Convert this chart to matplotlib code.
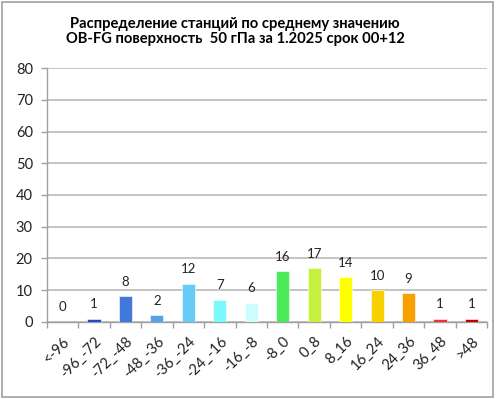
import matplotlib
matplotlib.use("Agg")
import matplotlib.pyplot as plt
from matplotlib.patches import Rectangle

categories = ["<-96", "-96_-72", "-72_-48", "-48_-36", "-36_-24", "-24_-16", "-16_-8",
              "-8_0", "0_8", "8_16", "16_24", "24_36", "36_48", ">48"]
values = [0, 1, 8, 2, 12, 7, 6, 16, 17, 14, 10, 9, 1, 1]
colors = ["#2447C8", "#2447C8", "#4178DC", "#55A2E6", "#66CCF5", "#7AF8FA", "#CCFCFC",
          "#4CEB5A", "#C6F040", "#FFFF00", "#F8D000", "#F8A000", "#F03232", "#C00000"]
yticks = [0, 10, 20, 30, 40, 50, 60, 70, 80]
title = "Распределение станций по среднему значению\nOB-FG поверхность  50 гПа за 1.2025 срок 00+12"

plt.rcParams['font.family'] = ['Lato', 'DejaVu Sans']

fig = plt.figure(figsize=(4.96, 3.99), dpi=100)
fig.patch.set_facecolor("white")
fig.add_artist(Rectangle((2/496, 2/399), 491/496, 395/399, transform=fig.transFigure,
                         fill=False, edgecolor="#A0A0A0", linewidth=1.2))

ax = fig.add_axes([46.7/496, 77.3/399, (487.3-46.7)/496, (321.7-68.3)/399])
x = list(range(len(categories)))
ax.bar(x, values, width=0.42, color=colors, edgecolor="white", linewidth=0.4, zorder=3)
for xi, v in zip(x, values):
    ax.annotate(str(v), (xi, v), xytext=(0, 6), textcoords="offset points",
                ha="center", va="bottom", fontsize=9.5, color="#222222")

ax.set_xlim(-0.5, len(categories) - 0.5)
ax.set_ylim(0, 80)
ax.set_yticks(yticks)
ax.set_yticklabels([str(t) for t in yticks], fontsize=10.5, color="#222222")
ax.yaxis.grid(True, color="#BFBFBF", linewidth=1.3, zorder=0)
ax.set_axisbelow(True)

ax.set_xticks(x)
ax.set_xticklabels(categories, rotation=45, ha="right", rotation_mode="anchor",
                   fontsize=10.5, color="#222222")
ax.tick_params(axis="x", length=0, pad=9)
ax.set_xticks([i - 0.5 for i in range(len(categories) + 1)], minor=True)
ax.tick_params(axis="x", which="minor", length=4, color="#A0A0A0", width=1)
ax.tick_params(axis="y", length=4, color="#A0A0A0", width=1, pad=6)

for s in ["top", "right"]:
    ax.spines[s].set_visible(False)
ax.spines["left"].set_color("#A0A0A0")
ax.spines["bottom"].set_color("#A0A0A0")
ax.spines["left"].set_linewidth(1)
ax.spines["bottom"].set_linewidth(1)

fig.text(235/496, 1 - 17/399, title, ha="center", va="top", fontsize=10.6,
         fontweight="bold", linespacing=1.1, color="black")

fig.savefig("out.png", dpi=100)
